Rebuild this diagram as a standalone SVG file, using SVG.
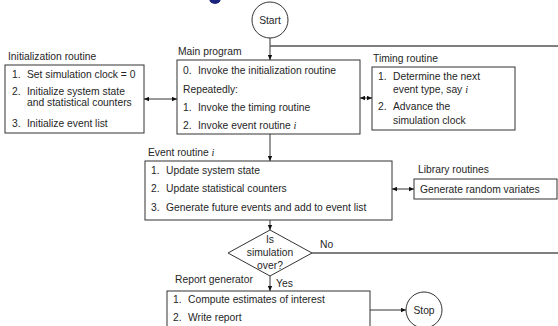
<svg xmlns="http://www.w3.org/2000/svg" width="558" height="326" viewBox="0 0 558 326">
<defs>
<marker id="ah" viewBox="0 0 8 8" refX="8" refY="4" markerWidth="5" markerHeight="5" orient="auto-start-reverse" markerUnits="userSpaceOnUse">
<path d="M0,0.5 L8,4 L0,7.5 z" fill="#111"/>
</marker>
<style>
text{font-family:"Liberation Sans",Arial,sans-serif;font-size:10.3px;fill:#262626}
.box{fill:#fff;stroke:#333;stroke-width:1}
.ln{fill:none;stroke:#333;stroke-width:1}
.lg{fill:none;stroke:#555;stroke-width:1.5}
.it{font-family:"Liberation Serif",serif;font-style:italic}
.c{text-anchor:middle}
</style>
</defs>
<rect width="558" height="326" fill="#fff"/>
<ellipse cx="215" cy="-2" rx="6" ry="6" fill="#1a237e"/>

<g id="start">
<circle cx="270" cy="20" r="18" class="box"/>
<text x="270" y="23.5" class="c">Start</text>
</g>

<g id="init">
<text x="8" y="60">Initialization routine</text>
<rect x="5" y="65" width="139" height="68" class="box"/>
<text x="12" y="78">1.</text><text x="27" y="78">Set simulation clock = 0</text>
<text x="12" y="95">2.</text><text x="27" y="95">Initialize system state</text>
<text x="27" y="106">and statistical counters</text>
<text x="12" y="127">3.</text><text x="27" y="127">Initialize event list</text>
</g>

<g id="main">
<text x="178" y="55">Main program</text>
<rect x="177" y="60" width="183" height="74" class="box"/>
<text x="183" y="74">0.</text><text x="198" y="74">Invoke the initialization routine</text>
<text x="183" y="93">Repeatedly:</text>
<text x="183" y="111">1.</text><text x="198" y="111">Invoke the timing routine</text>
<text x="183" y="129">2.</text><text x="198" y="129">Invoke event routine <tspan class="it">i</tspan></text>
</g>

<g id="timing">
<text x="373" y="62">Timing routine</text>
<rect x="372" y="67" width="143" height="63" class="box"/>
<text x="378" y="80">1.</text><text x="393" y="80">Determine the next</text>
<text x="393" y="93">event type, say <tspan class="it">i</tspan></text>
<text x="378" y="110">2.</text><text x="393" y="110">Advance the</text>
<text x="393" y="124">simulation clock</text>
</g>

<g id="event">
<text x="148" y="156">Event routine <tspan class="it">i</tspan></text>
<rect x="145" y="161" width="247" height="59" class="box"/>
<text x="151" y="174">1.</text><text x="166" y="174">Update system state</text>
<text x="151" y="192">2.</text><text x="166" y="192">Update statistical counters</text>
<text x="151" y="211">3.</text><text x="166" y="211">Generate future events and add to event list</text>
</g>

<g id="library">
<text x="418" y="173">Library routines</text>
<rect x="414" y="179" width="143" height="20" class="box"/>
<text x="420" y="192.5">Generate random variates</text>
</g>

<g id="decision">
<polygon points="270,230 312,253 270,276 228,253" class="box"/>
<text x="270" y="243" class="c">Is</text>
<text x="270" y="256" class="c">simulation</text>
<text x="270" y="269" class="c">over?</text>
</g>

<g id="report">
<text x="175" y="283">Report generator</text>
<rect x="167" y="291" width="203" height="40" class="box"/>
<text x="173" y="303">1.</text><text x="188" y="303">Compute estimates of interest</text>
<text x="173" y="321">2.</text><text x="188" y="321">Write report</text>
</g>

<g id="stop">
<circle cx="424" cy="310" r="18" class="box"/>
<text x="424" y="313.5" class="c">Stop</text>
</g>

<g id="connectors">
<line x1="270" y1="38" x2="270" y2="60" class="ln" marker-end="url(#ah)"/>
<polyline points="270,46 558,46" class="lg"/>
<line x1="144" y1="99" x2="177" y2="99" class="ln" marker-start="url(#ah)" marker-end="url(#ah)"/>
<line x1="360" y1="98" x2="372" y2="98" class="ln" marker-start="url(#ah)" marker-end="url(#ah)"/>
<line x1="270" y1="134" x2="270" y2="161" class="ln" marker-end="url(#ah)"/>
<line x1="392" y1="189" x2="414" y2="189" class="ln" marker-start="url(#ah)" marker-end="url(#ah)"/>
<line x1="270" y1="220" x2="270" y2="230" class="ln" marker-end="url(#ah)"/>
<line x1="312" y1="253" x2="558" y2="253" class="lg"/>
<text x="320" y="248">No</text>
<line x1="270" y1="276" x2="270" y2="291" class="ln" marker-end="url(#ah)"/>
<text x="276" y="287">Yes</text>
<line x1="370" y1="310" x2="406" y2="310" class="ln" marker-end="url(#ah)"/>
</g>
</svg>
